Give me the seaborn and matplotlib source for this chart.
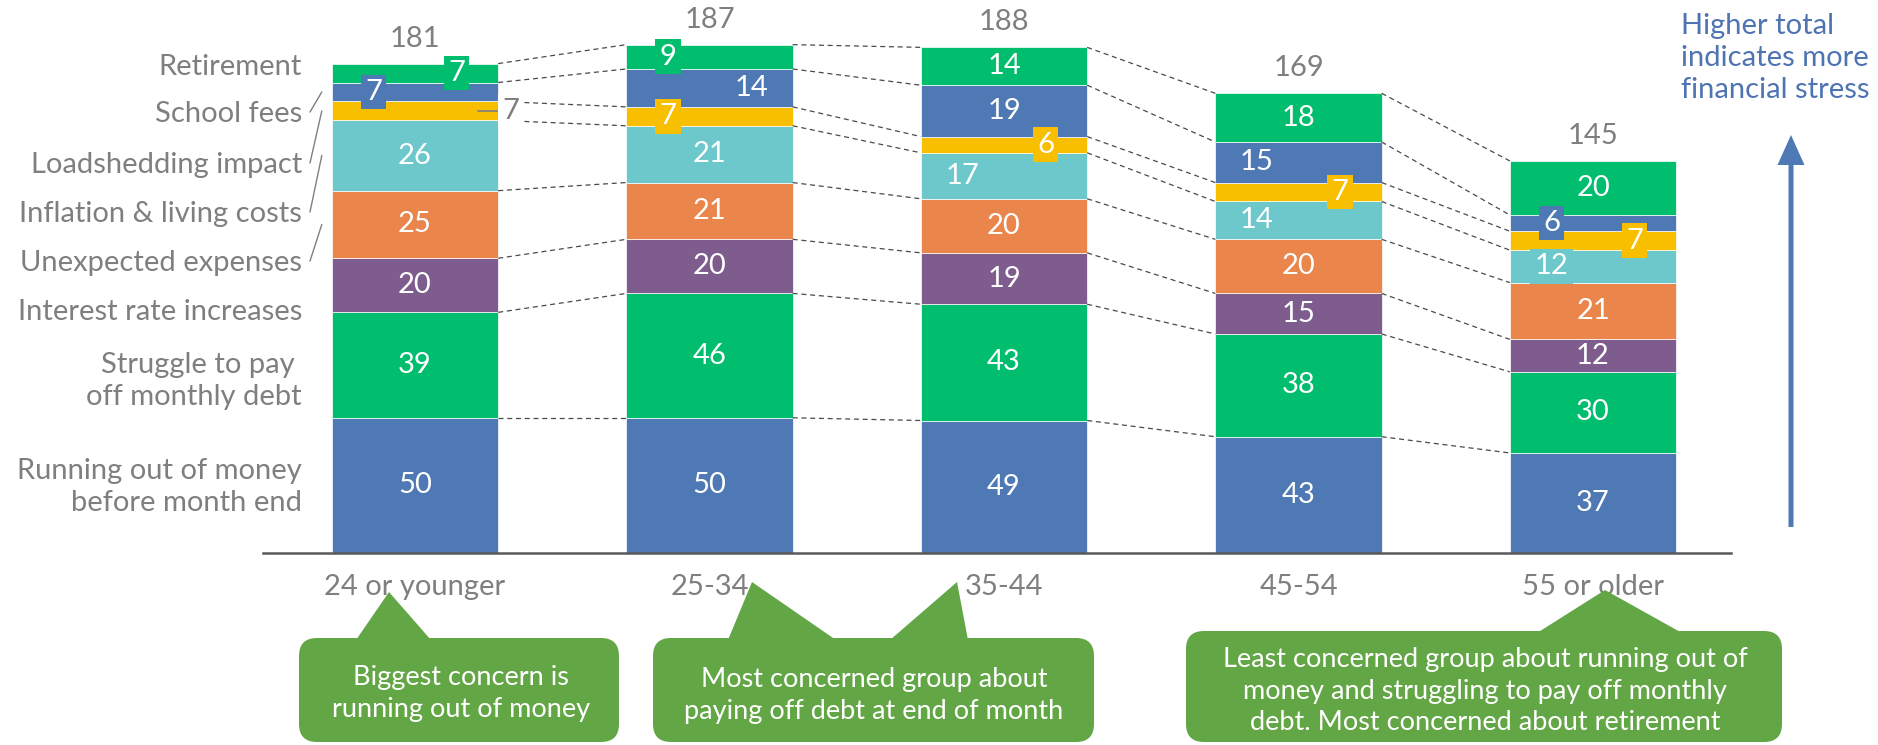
import numpy as np
import matplotlib
matplotlib.use("Agg")
import matplotlib.pyplot as plt
import seaborn as sns
from matplotlib.patches import FancyBboxPatch, Polygon, FancyArrow

# ---- data -----------------------------------------------------------------
age_groups = ["24 or younger", "25-34", "35-44", "45-54", "55 or older"]

# concerns listed from the bottom of each stack to the top
concerns = [
    "Running out of money\nbefore month end",
    "Struggle to pay \noff monthly debt",
    "Interest rate increases",
    "Unexpected expenses",
    "Inflation & living costs",
    "Loadshedding impact",
    "School fees",
    "Retirement",
]
running_out_of_money = [50, 50, 49, 43, 37]
struggle_monthly_debt = [39, 46, 43, 38, 30]
interest_rate_increases = [20, 20, 19, 15, 12]
unexpected_expenses = [25, 21, 20, 20, 21]
inflation_living_costs = [26, 21, 17, 14, 12]
loadshedding_impact = [7, 7, 6, 7, 7]
school_fees = [7, 14, 19, 15, 6]
retirement = [7, 9, 14, 18, 20]
totals = [181, 187, 188, 169, 145]

callout_texts = [
    "Biggest concern is\nrunning out of money",
    "Most concerned group about\npaying off debt at end of month",
    "Least concerned group about running out of\nmoney and struggling to pay off monthly\ndebt. Most concerned about retirement",
]
note_text = "Higher total\nindicates more\nfinancial stress"

series = [running_out_of_money, struggle_monthly_debt, interest_rate_increases,
          unexpected_expenses, inflation_living_costs, loadshedding_impact,
          school_fees, retirement]

# ---- style ----------------------------------------------------------------
colors = ["#4E79B4", "#00BE6E", "#7E5D8E", "#EA864C", "#6CC8CB",
          "#F8BE00", "#4E79B4", "#00BE6E"]
GREY = "#7F7F7F"
CALLOUT = "#63A646"
NOTE_BLUE = "#4E74B2"
FS = 21

sns.set_theme(style="white")
plt.rcParams["font.family"] = ["Lato", "DejaVu Sans"]

W, H = 1878, 745
fig = plt.figure(figsize=(W / 100, H / 100), dpi=100)

# main axes: baseline at pixel row 553, 2.704 px per unit
base_px = 553
unit_px = 2.704
ax = fig.add_axes([0, (H - base_px) / H, 1, base_px / H])

bar_w = 0.565
bottom = np.zeros(len(age_groups))
cum = [bottom.copy()]
for vals, col in zip(series, colors):
    sns.barplot(x=age_groups, y=vals, bottom=bottom, color=col, width=bar_w,
                saturation=1, edgecolor="white", linewidth=0.5, ax=ax)
    bottom = bottom + np.array(vals)
    cum.append(bottom.copy())

ax.set_xlim(-415 / 294.5, (W - 415) / 294.5)
ax.set_ylim(0, base_px / unit_px)
ax.set_yticks([])
ax.tick_params(axis="x", length=0, pad=15, labelsize=FS, labelcolor=GREY)
for s in ["top", "right", "left"]:
    ax.spines[s].set_visible(False)
ax.spines["bottom"].set_bounds((263 - 415) / 294.5, (1731 - 415) / 294.5)
ax.spines["bottom"].set_color("#595959")
ax.spines["bottom"].set_linewidth(1.8)
ax.set_xlabel("")
ax.set_ylabel("")

# dashed connectors between neighbouring stacks
n = len(age_groups)
for k in range(1, len(cum)):
    for i in range(n - 1):
        ax.plot([i + bar_w / 2, i + 1 - bar_w / 2], [cum[k][i], cum[k][i + 1]],
                color="#4A4A4A", lw=0.9, ls=(0, (4, 3)), zorder=1)

# segment labels: -1 left, 1 right, 2 outside with leader
label_side = {
    (7, 0): 1, (6, 0): -1, (5, 0): 2,
    (7, 1): -1, (6, 1): 1, (5, 1): -1,
    (5, 2): 1, (4, 2): -1,
    (6, 3): -1, (5, 3): 1, (4, 3): -1,
    (6, 4): -1, (5, 4): 1, (4, 4): -1,
}
for s, vals in enumerate(series):
    for i, v in enumerate(vals):
        yc = cum[s][i] + v / 2
        side = label_side.get((s, i), 0)
        if side == 2:
            ax.plot([i + bar_w / 2 - 0.07, i + bar_w / 2], [yc, yc],
                    color=GREY, lw=1.2, zorder=5)
            ax.text(i + 0.326, yc, str(v), ha="center", va="center",
                    fontsize=FS, color=GREY, zorder=6,
                    bbox=dict(boxstyle="square,pad=0.15", fc="white", ec="none"))
            continue
        x = i + side * 0.25 * bar_w
        kw = {}
        if side != 0:
            kw["bbox"] = dict(boxstyle="square,pad=0.15", fc=colors[s], ec="none")
        ax.text(x, yc, str(v), ha="center", va="center", fontsize=FS,
                color="white", zorder=6, **kw)

# totals above each stack
for i, t in enumerate(totals):
    ax.annotate(str(t), (i, cum[-1][i]), xytext=(0, 18), textcoords="offset points",
                ha="center", va="center", fontsize=FS, color=GREY)

# ---- overlay in pixel coordinates -------------------------------------------
ov = fig.add_axes([0, 0, 1, 1], zorder=10)
ov.set_xlim(0, W)
ov.set_ylim(H, 0)
ov.axis("off")
ov.patch.set_alpha(0)


def to_px(x, y):
    dx, dy = ax.transData.transform((x, y))
    return dx, H - dy


# left legend labels with leader lines
label_rows = [487, 381, 312, 263, 214, 165, 114, 67]
leader_for = {3, 4, 5, 6}
for s, name in enumerate(concerns):
    ov.text(302, label_rows[s], name, ha="right", va="center", fontsize=FS,
            color=GREY, linespacing=1.25, multialignment="right")
    if s in leader_for:
        _, sy = to_px(0, cum[s][0] + series[s][0] / 2)
        bx, _ = to_px(-bar_w / 2, 0)
        ov.plot([310, bx - 10], [label_rows[s] - 2, sy], color=GREY, lw=1.0)

# note and arrow on the right
ov.text(1681, 58, note_text, ha="left", va="center", fontsize=FS,
        color=NOTE_BLUE, linespacing=1.3)
ov.add_patch(FancyArrow(1791, 527, 0, -392, width=5, head_width=27,
                        head_length=30, length_includes_head=True,
                        color="#4E79B4", ec="none"))

# callouts
callouts = [
    dict(box=(299, 638, 619, 742), tips=[((356, 431), (389, 592))],
         text_xy=(461, 694)),
    dict(box=(653, 638, 1094, 742),
         tips=[((728, 836), (752, 582)), ((890, 968), (957, 582))],
         text_xy=(874, 696)),
    dict(box=(1186, 631, 1782, 742), tips=[((1537, 1682), (1605, 590))],
         text_xy=(1485, 691)),
]
for c, txt in zip(callouts, callout_texts):
    x0, y0, x1, y1 = c["box"]
    ov.add_patch(FancyBboxPatch((x0, y0), x1 - x0, y1 - y0,
                                boxstyle="round,pad=0,rounding_size=18",
                                fc=CALLOUT, ec="none"))
    for (bl, br), tip in c["tips"]:
        ov.add_patch(Polygon([(bl, y0 + 2), (br, y0 + 2), tip], closed=True,
                             fc=CALLOUT, ec="none"))
    ov.text(*c["text_xy"], txt, ha="center", va="center", fontsize=19.5,
            color="white", linespacing=1.35)

fig.savefig("out.png", dpi=100)
